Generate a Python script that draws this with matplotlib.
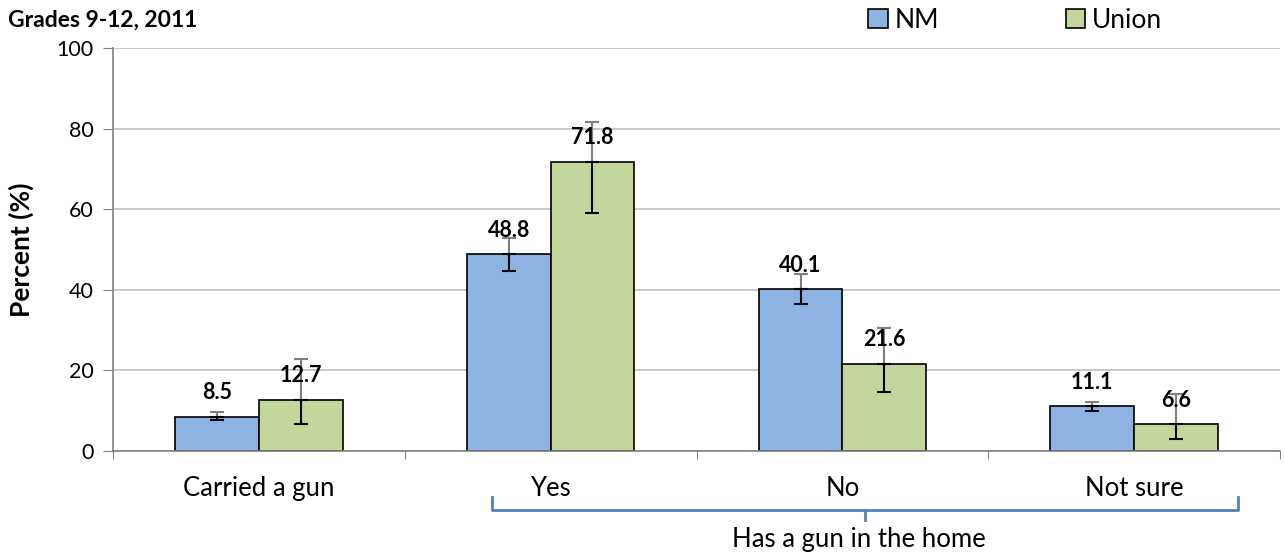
import matplotlib
matplotlib.use("Agg")
import matplotlib.pyplot as plt
import numpy as np

plt.rcParams['font.family'] = ['Lato', 'DejaVu Sans']

categories = ["Carried a gun", "Yes", "No", "Not sure"]
series_names = ["NM", "Union"]
nm_values = [8.5, 48.8, 40.1, 11.1]
nm_upper = [9.8, 52.8, 43.9, 12.2]
nm_lower = [7.7, 44.7, 36.5, 10.0]
union_values = [12.7, 71.8, 21.6, 6.6]
union_upper = [22.8, 81.7, 30.4, 14.1]
union_lower = [6.7, 59.0, 14.7, 3.0]
yticks = [0, 20, 40, 60, 80, 100]
group_label = "Has a gun in the home"
title = "Grades 9-12, 2011"

nm_color = "#8DB3E2"
union_color = "#C3D69B"

fig = plt.figure(figsize=(12.85, 5.58), dpi=100)
ax = fig.add_axes([113/1285, 1-451/558, (1280-113)/1285, (451-48)/558])

x = np.arange(len(categories))
w = 0.287
for vals, up, lo, off, col, name in [(nm_values, nm_upper, nm_lower, -w/2, nm_color, series_names[0]),
                                     (union_values, union_upper, union_lower, w/2, union_color, series_names[1])]:
    vals = np.array(vals); up = np.array(up); lo = np.array(lo)
    ax.bar(x + off, vals, w, color=col, edgecolor="black", linewidth=1.2, label=name, zorder=2)
    ax.errorbar(x + off, vals, yerr=[np.zeros_like(vals), up - vals], fmt="none",
                ecolor="#808080", elinewidth=1.5, capsize=5, capthick=1.5, zorder=3)
    ax.errorbar(x + off, vals, yerr=[vals - lo, np.zeros_like(vals)], fmt="none",
                ecolor="black", elinewidth=1.5, capsize=5, capthick=1.5, zorder=4)
    for xi, v in zip(x + off, vals):
        ax.text(xi, v + 6.0, f"{v:.1f}", ha="center", va="center", fontsize=15.5,
                fontweight="bold", zorder=5)

ax.set_xlim(-0.5, len(categories) - 0.5)
ax.set_ylim(0, 100)
ax.set_yticks(yticks)
ax.tick_params(axis="y", labelsize=15.5, length=7, color="#808080", direction="out", pad=7)
ax.yaxis.grid(True, color="#BFBFBF", linewidth=1.2, zorder=0)
ax.set_axisbelow(True)
ax.set_xticks(np.arange(len(categories) + 1) - 0.5, minor=False)
ax.set_xticklabels([])
ax.tick_params(axis="x", length=6, color="#808080", direction="out")
for xi, c in zip(x, categories):
    ax.text(xi, -9.4, c, ha="center", va="center", fontsize=18.5, transform=ax.transData)
for s in ["top", "right"]:
    ax.spines[s].set_visible(False)
ax.spines["left"].set_color("#808080")
ax.spines["bottom"].set_color("#808080")
ax.spines["left"].set_linewidth(1.2)
ax.spines["bottom"].set_linewidth(1.2)

ax.set_ylabel("Percent (%)", fontsize=19, fontweight="bold", labelpad=16)

# bracket for grouped categories
trans = ax.get_xaxis_transform()
xl, xr, xm = 0.80, 3.356, 2.078
yt, yb, ytick = -0.114, -0.146, -0.171
bc = "#4F81BD"
ax.plot([xl, xl, xr, xr], [yt, yb, yb, yt], color=bc, lw=2, transform=trans, clip_on=False)
ax.plot([xm, xm], [yb, ytick], color=bc, lw=2, transform=trans, clip_on=False)
ax.text(xm - 0.02, -0.22, group_label, ha="center", va="center", fontsize=18.5, transform=trans)

fig.text(8/1285, 1-20/558, title, ha="left", va="center", fontsize=16.5, fontweight="bold")

ax.legend(loc="upper left", bbox_to_anchor=(868/1285, 1-8/558), bbox_transform=fig.transFigure,
          ncol=2, frameon=False, fontsize=19, handlelength=0.75, handleheight=0.75,
          columnspacing=4.8, handletextpad=0.25, borderaxespad=0, borderpad=0)

fig.savefig("out.png", dpi=100)
